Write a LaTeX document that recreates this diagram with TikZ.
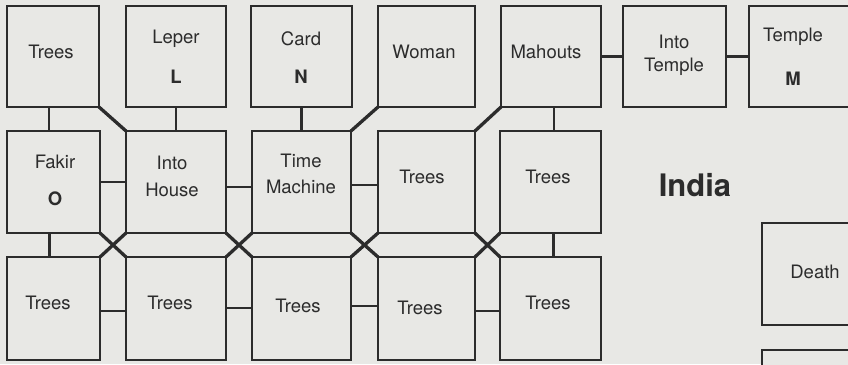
\documentclass[tikz,border=0pt]{standalone}
\usepackage{fontspec}
\setmainfont{TeX Gyre Heros}
\definecolor{paper}{RGB}{232,232,229}
\definecolor{ink}{RGB}{44,44,44}
\begin{document}
\begin{tikzpicture}[x=1pt,y=-1pt,
  box/.style={draw=ink,line width=2.5pt,fill=paper,inner sep=0pt,outer sep=0pt,minimum width=#1},
  box/.default=100,
  lbl/.style={text=ink,font=\fontsize{18.5}{22}\selectfont,inner sep=0pt},
  bl/.style={text=ink,font=\fontsize{18.5}{22}\selectfont\bfseries,inner sep=0pt},
  conn/.style={draw=ink,line width=2.5pt},
  diag/.style={draw=ink,line width=3.3pt}]
\clip (0,0) rectangle (848,364);
\fill[paper] (0,0) rectangle (848,364);
% row 1
\node[box=92,minimum height=101] (a1) at (53,56.5) {};
\node[box=100,minimum height=101] (a2) at (176,56.5) {};
\node[box=101,minimum height=101] (a3) at (301.5,56.5) {};
\node[box=97,minimum height=101] (a4) at (426.5,56.5) {};
\node[box=100,minimum height=101] (a5) at (551,56.5) {};
\node[box=103,minimum height=101] (a6) at (674.5,56.5) {};
\node[box=106,minimum height=101] (a7) at (802,56.5) {};
% row 2
\node[box=93,minimum height=102] (b1) at (53.5,182) {};
\node[box=100,minimum height=102] (b2) at (176,182) {};
\node[box=99,minimum height=102] (b3) at (301.5,182) {};
\node[box=97,minimum height=102] (b4) at (426.5,182) {};
\node[box=101,minimum height=102] (b5) at (550.5,182) {};
% row 3
\node[box=93,minimum height=103] (c1) at (53.5,308.5) {};
\node[box=100,minimum height=103] (c2) at (176,308.5) {};
\node[box=99,minimum height=103] (c3) at (301.5,308.5) {};
\node[box=97,minimum height=103] (c4) at (426.5,308.5) {};
\node[box=101,minimum height=103] (c5) at (550.5,308.5) {};
% right column
\node[box=110,minimum height=102] (d1) at (817,274) {};
\node[box=110,minimum height=102] (d2) at (817,401) {};
% connectors
\draw[conn] ([xshift=-4pt]a1.south) -- ([xshift=-4pt]a1.south |- b1.north);
\draw[diag] (a1.south east) -- (b2.north west);
\draw[conn] (a2.south) -- (b2.north);
\draw[conn] (a3.south) -- (b3.north);
\draw[diag] (a4.south west) -- (b3.north east);
\draw[diag] (a5.south west) -- (b4.north east);
\draw[conn] ([xshift=3pt]a5.south) -- ([xshift=3pt]a5.south |- b5.north);
\draw[conn] (a5.east) -- (a6.west);
\draw[conn] (a6.east) -- (a7.west);
\draw[conn] (b1.east) -- (b2.west);
\draw[conn] ([yshift=-5pt]b2.east) -- ([yshift=-5pt]b2.east -| b3.west);
\draw[conn] ([yshift=-3pt]b3.east) -- ([yshift=-3pt]b3.east -| b4.west);
\draw[diag] (b1.south east) -- (c2.north west);
\draw[diag] (b2.south west) -- (c1.north east);
\draw[diag] (b2.south east) -- (c3.north west);
\draw[diag] (b3.south west) -- (c2.north east);
\draw[diag] (b3.south east) -- (c4.north west);
\draw[diag] (b4.south west) -- (c3.north east);
\draw[diag] (b4.south east) -- (c5.north west);
\draw[diag] (b5.south west) -- (c4.north east);
\draw[conn] ([xshift=-4pt]b1.south) -- ([xshift=-4pt]b1.south |- c1.north);
\draw[conn] ([xshift=3pt]b5.south) -- ([xshift=3pt]b5.south |- c5.north);
\draw[conn] ([yshift=-2.5pt]c1.east) -- ([yshift=-2.5pt]c1.east -| c2.west);
\draw[conn] ([yshift=0.5pt]c2.east) -- ([yshift=0.5pt]c2.east -| c3.west);
\draw[conn] ([yshift=2.5pt]c3.east) -- ([yshift=2.5pt]c3.east -| c4.west);
\draw[conn] ([yshift=-2.5pt]c4.east) -- ([yshift=-2.5pt]c4.east -| c5.west);
% labels
\node[lbl] (t11) at (51,52) {Trees};
\node[lbl] (t12) at (176,39) {Leper};
\node[bl] (t12b) at (176,77) {L};
\node[lbl] (t13) at (301,39) {Card};
\node[bl] (t13b) at (301,77) {N};
\node[lbl] (t14) at (424,52) {Woman};
\node[lbl] (t15) at (546,52) {Mahouts};
\node[lbl] (t16) at (674,42) {Into};
\node[lbl] (t16b) at (674,67) {Temple};
\node[lbl] (t17) at (793,37) {Temple};
\node[bl] (t17b) at (793,79) {M};
\node[lbl] (t21) at (55,162) {Fakir};
\node[bl] (t21b) at (55,199) {O};
\node[lbl] (t22) at (172,163) {Into};
\node[lbl] (t22b) at (172,190) {House};
\node[lbl] (t23) at (301,161) {Time};
\node[lbl] (t23b) at (301,187) {Machine};
\node[lbl] (t24) at (422,177) {Trees};
\node[lbl] (t25) at (548,177) {Trees};
\node[lbl] (t31) at (48,303) {Trees};
\node[lbl] (t32) at (170,303) {Trees};
\node[lbl] (t33) at (298,306) {Trees};
\node[lbl] (t34) at (420,308) {Trees};
\node[lbl] (t35) at (548,303) {Trees};
\node[text=ink,font=\fontsize{31}{34}\selectfont\bfseries,inner sep=0pt] (india) at (695,185) {India};
\node[lbl] (t41) at (815,272) {Death};
\end{tikzpicture}
\end{document}
